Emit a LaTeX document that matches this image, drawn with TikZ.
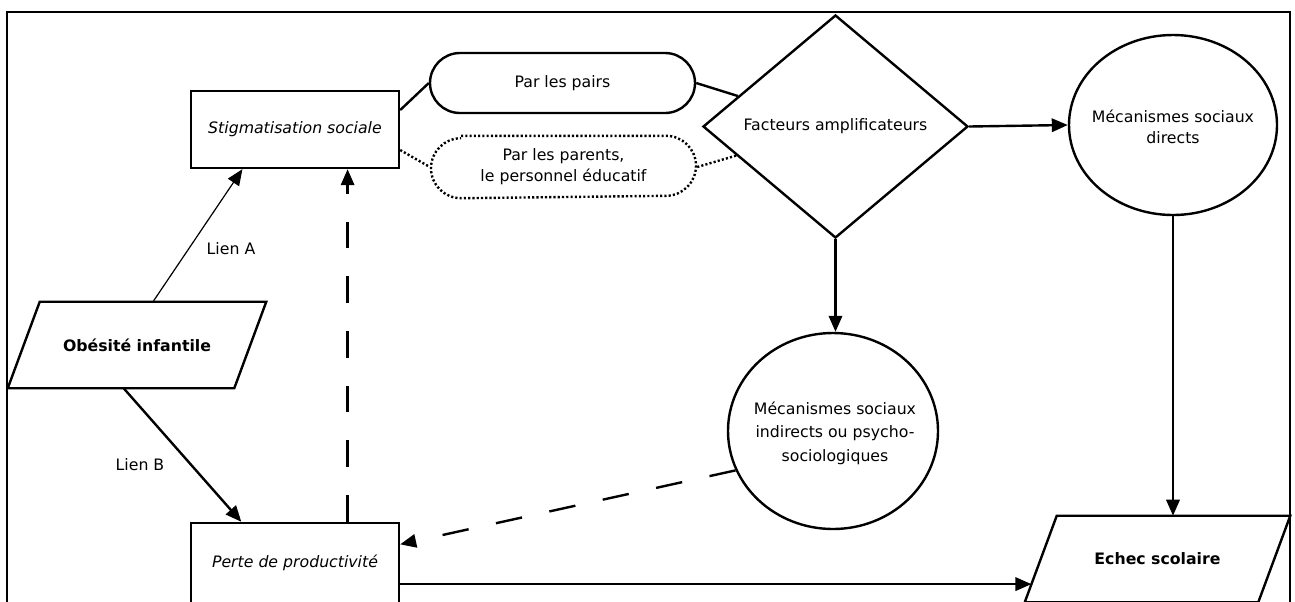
\documentclass[tikz,border=0pt]{standalone}
\usepackage{fontspec}
\setmainfont{DejaVu Sans}
\usetikzlibrary{arrows.meta,shapes.geometric,shapes.misc,calc}
\begin{document}
\begin{tikzpicture}[x=0.75pt,y=-0.75pt,
  every node/.style={font=\fontsize{11.8}{15.75}\selectfont, text=black, inner sep=0pt},
  lw/.style={line width=1.8pt},
  thinline/.style={line width=0.9pt},
  tip/.style={-{Triangle[length=12pt,width=10pt]}},
  longdash/.style={dash pattern=on 20pt off 21pt},
  dotline/.style={dash pattern=on 1.6pt off 1.6pt},
  box/.style={draw, lw, rectangle, minimum width=156pt, minimum height=57.75pt},
  parabody/.style={rectangle, minimum height=64.5pt, font=\fontsize{11.8}{15.75}\selectfont\bfseries},
  pill/.style={draw, lw, rounded rectangle, minimum width=198.75pt, minimum height=45pt, align=center},
  circ/.style={draw, lw, ellipse},
  ctext/.style={align=center},
  lbl/.style={font=\fontsize{11.8}{15.75}\selectfont}
]
\useasboundingbox (0,0) rectangle (1295,601);
\clip (0,0) rectangle (1295,601);
% frame
\draw[line width=1.4pt] (7,640) -- (7,12) -- (1290,12) -- (1290,640);

% nodes
\node[box, font=\fontsize{11.8}{15.75}\selectfont\itshape] (stig) at (295,129.5) {Stigmatisation sociale};
\node[box, font=\fontsize{11.8}{15.75}\selectfont\itshape, minimum height=60pt] (perte) at (295,563) {Perte de productivit\'e};

\node[parabody, minimum width=169.5pt] (obes) at (137,345) {Ob\'esit\'e infantile};
\draw[lw, line join=miter] ([xshift=12pt]obes.north west) -- ([xshift=12pt]obes.north east)
  -- ([xshift=-12pt]obes.south east) -- ([xshift=-12pt]obes.south west) -- cycle;

\node[parabody, minimum width=174.75pt] (echec) at (1157.5,559) {Echec scolaire};
\draw[lw, line join=miter] ([xshift=12pt]echec.north west) -- ([xshift=12pt]echec.north east)
  -- ([xshift=-12pt]echec.south east) -- ([xshift=-12pt]echec.south west) -- cycle;

\node[pill] (pairs) at (562.5,83) {Par les pairs};
\node[pill, draw=none] (parents) at (563.5,167) {Par les parents,\\le personnel \'educatif};
\draw[lw, dotline] (parents.north west) -- (parents.north east)
  arc[start angle=90, end angle=-90, x radius=22.5pt, y radius=22.5pt]
  -- (parents.south west)
  arc[start angle=270, end angle=90, x radius=22.5pt, y radius=22.5pt];
\node[draw, lw, diamond, minimum width=198.75pt, minimum height=167.25pt] (dia) at (835.5,126.5) {Facteurs amplificateurs};

\node[circ, minimum width=156pt, minimum height=135pt] (dir) at (1173,125) {};
\node[ctext] (dirT) at (1173,127) {M\'ecanismes sociaux\\directs};
\node[circ, minimum width=157.5pt, minimum height=147pt] (ind) at (833,431) {};
\node[ctext, font=\fontsize{11.8}{17.5}\selectfont] (indT) at (835,433) {M\'ecanismes sociaux\\indirects ou psycho-\\sociologiques};

% labels
\node[lbl] (lA) at (231,249) {Lien A};
\node[lbl] (lB) at (140,465) {Lien B};

% helper coordinates
\coordinate (obTop) at ([xshift=12pt]obes.north);
\coordinate (obBot) at ([xshift=-10pt]obes.south);
\coordinate (stA) at ($(stig.south west)!0.25!(stig.south east)$);
\coordinate (stD) at ($(stig.south west)!0.75!(stig.south east)$);
\coordinate (peB) at ($(perte.north west)!0.245!(perte.north east)$);
\coordinate (peD) at ($(perte.north west)!0.75!(perte.north east)$);
\coordinate (eIn) at ($([xshift=12pt]echec.north west)!0.79!([xshift=-12pt]echec.south west)$);

% connectors
\draw[lw] ([yshift=14.6pt]stig.east) -- (pairs.west);
\draw[lw] (pairs.east) -- (dia);
\draw[lw, dotline] ([yshift=-15.4pt]stig.east) -- (parents.west);
\draw[lw, dotline] (parents.east) -- (dia);
\draw[lw, tip] (dia.east) -- (dir.west);
\draw[lw, tip] (dia.south) -- (dia.south |- ind.north);
\draw[lw, tip] (dir.south) -- (dir.south |- echec.north);
\draw[lw, tip] (perte.east |- eIn) -- (eIn);
\draw[thinline, tip] (obTop) -- (stA);
\draw[lw, tip] (obBot) -- (peB);
\draw[lw, longdash, tip] (peD) -- (stD);
\draw[lw, longdash, tip] (ind.202) -- ([yshift=14pt]perte.east);
\end{tikzpicture}
\end{document}
